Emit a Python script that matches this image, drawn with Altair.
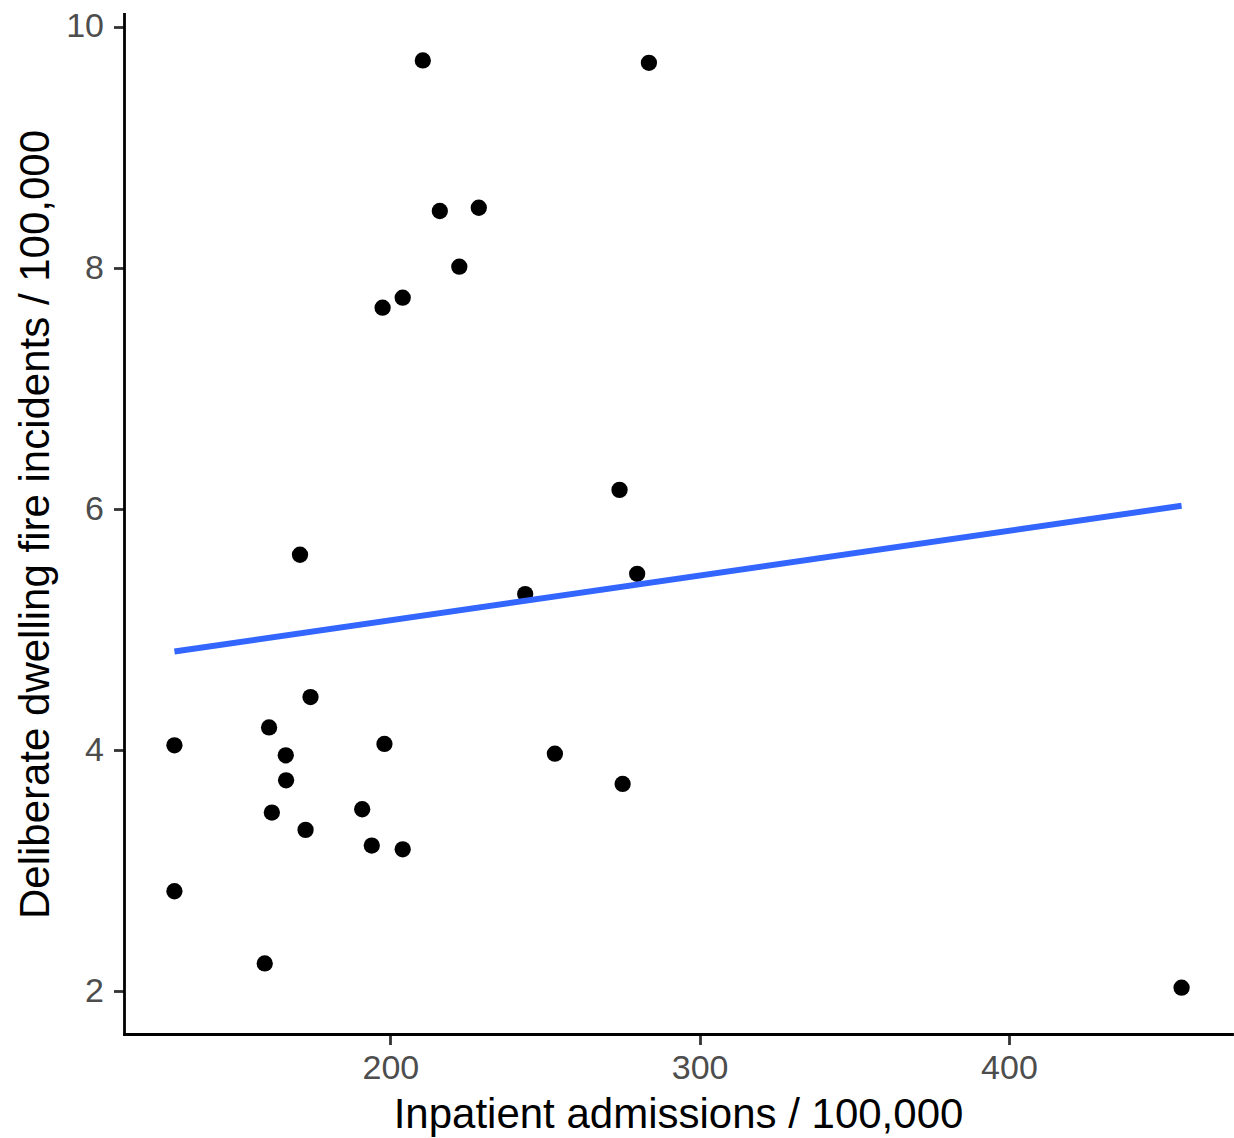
import altair as alt
import pandas as pd

admissions = [210.5, 283.6, 216.0, 228.6, 222.3, 204.0, 197.5, 274.1, 170.8,
              279.8, 243.6, 174.2, 160.8, 130.2, 198.1, 166.2, 253.2, 166.3,
              275.1, 190.9, 161.7, 172.6, 194.0, 204.0, 130.2, 159.4, 455.8]
fires = [9.722, 9.702, 8.473, 8.500, 8.011, 7.754, 7.671, 6.160, 5.622,
         5.464, 5.296, 4.442, 4.190, 4.041, 4.053, 3.958, 3.972, 3.751,
         3.721, 3.511, 3.484, 3.340, 3.210, 3.179, 2.831, 2.232, 2.031]
x_ticks = [200, 300, 400]
y_ticks = [2, 4, 6, 8, 10]

df = pd.DataFrame({"adm": admissions, "fire": fires})

FONT = "Liberation Sans"

xscale = alt.Scale(domain=[113.9, 472.1], nice=False, zero=False)
yscale = alt.Scale(domain=[1.647, 10.107], nice=False, zero=False)

axis_common = dict(
    grid=False,
    domainColor="black",
    domainWidth=2.8,
    domainCap="square",
    tickColor="#333333",
    tickWidth=2.8,
    tickSize=10.5,
    labelColor="#4D4D4D",
    labelFont=FONT,
    labelFontSize=34,
    titleFont=FONT,
    titleFontSize=42,
    titleFontWeight="normal",
    titleColor="black",
    format="d",
)

xaxis = alt.Axis(values=x_ticks, title="Inpatient admissions / 100,000",
                 labelPadding=7, titleBaseline="alphabetic", titleY=93,
                 **axis_common)
yaxis = alt.Axis(values=y_ticks, title="Deliberate dwelling fire incidents / 100,000",
                 labelPadding=10, titleBaseline="alphabetic", titleX=-76,
                 titleAngle=270, **axis_common)

base = alt.Chart(df)

points = base.mark_circle(size=265, color="black", opacity=1).encode(
    x=alt.X("adm:Q", scale=xscale, axis=xaxis),
    y=alt.Y("fire:Q", scale=yscale, axis=yaxis),
)

line = base.transform_regression("adm", "fire").mark_line(
    color="#3366FF", strokeWidth=6
).encode(
    x=alt.X("adm:Q", scale=xscale),
    y=alt.Y("fire:Q", scale=yscale),
)

chart = alt.layer(points, line).properties(
    width=1108,
    height=1020,
    padding={"left": 124, "top": 14, "right": 2, "bottom": 104},
    autosize=alt.AutoSizeParams(type="none"),
    background="white",
).configure_view(stroke=None)

chart.save("out.html", embed_options={"renderer": "svg", "actions": False})
